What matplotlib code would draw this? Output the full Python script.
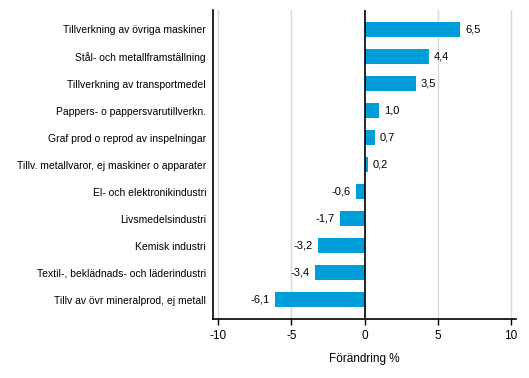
import matplotlib
matplotlib.use("Agg")
import matplotlib.pyplot as plt

categories = [
    "Tillverkning av övriga maskiner",
    "Stål- och metallframställning",
    "Tillverkning av transportmedel",
    "Pappers- o pappersvarutillverkn.",
    "Graf prod o reprod av inspelningar",
    "Tillv. metallvaror, ej maskiner o apparater",
    "El- och elektronikindustri",
    "Livsmedelsindustri",
    "Kemisk industri",
    "Textil-, beklädnads- och läderindustri",
    "Tillv av övr mineralprod, ej metall",
]
values = [6.5, 4.4, 3.5, 1.0, 0.7, 0.2, -0.6, -1.7, -3.2, -3.4, -6.1]
xticks = [-10, -5, 0, 5, 10]
xlabel = "Förändring %"

plt.rcParams['font.family'] = ['Liberation Sans', 'DejaVu Sans']
fig = plt.figure(figsize=(5.29, 3.78), dpi=100)
ax = fig.add_axes([0.4026, 0.156, 0.5728, 0.8175])

pos = list(range(len(categories)))
ax.barh(pos, values, height=0.55, color="#009ED9", zorder=3)
ax.set_ylim(len(categories) - 1 + 0.71, -0.72)
ax.set_xlim(-10.36, 10.34)
ax.set_yticks(pos)
ax.set_yticklabels(categories, fontsize=7.5)
ax.tick_params(axis='y', length=0, pad=5)
ax.set_xticks(xticks)
ax.set_xticklabels([str(t) for t in xticks], fontsize=8.5)
ax.tick_params(axis='x', length=4, width=1, color='black', pad=4)
for t in xticks:
    if t != 0:
        ax.axvline(t, color="#d9d9d9", lw=1, zorder=1)
ax.axvline(0, color="black", lw=1.2, zorder=4)
for s in ['top', 'right']:
    ax.spines[s].set_visible(False)
ax.spines['left'].set_linewidth(1.2)
ax.spines['bottom'].set_linewidth(1.2)
ax.set_xlabel(xlabel, fontsize=8.5, labelpad=8)

for p, v in zip(pos, values):
    lab = f"{v:.1f}".replace('.', ',')
    if v >= 0:
        ax.text(v + 0.35, p, lab, va='center', ha='left', fontsize=8)
    else:
        ax.text(v - 0.35, p, lab, va='center', ha='right', fontsize=8)

fig.savefig("out.png", dpi=100)
